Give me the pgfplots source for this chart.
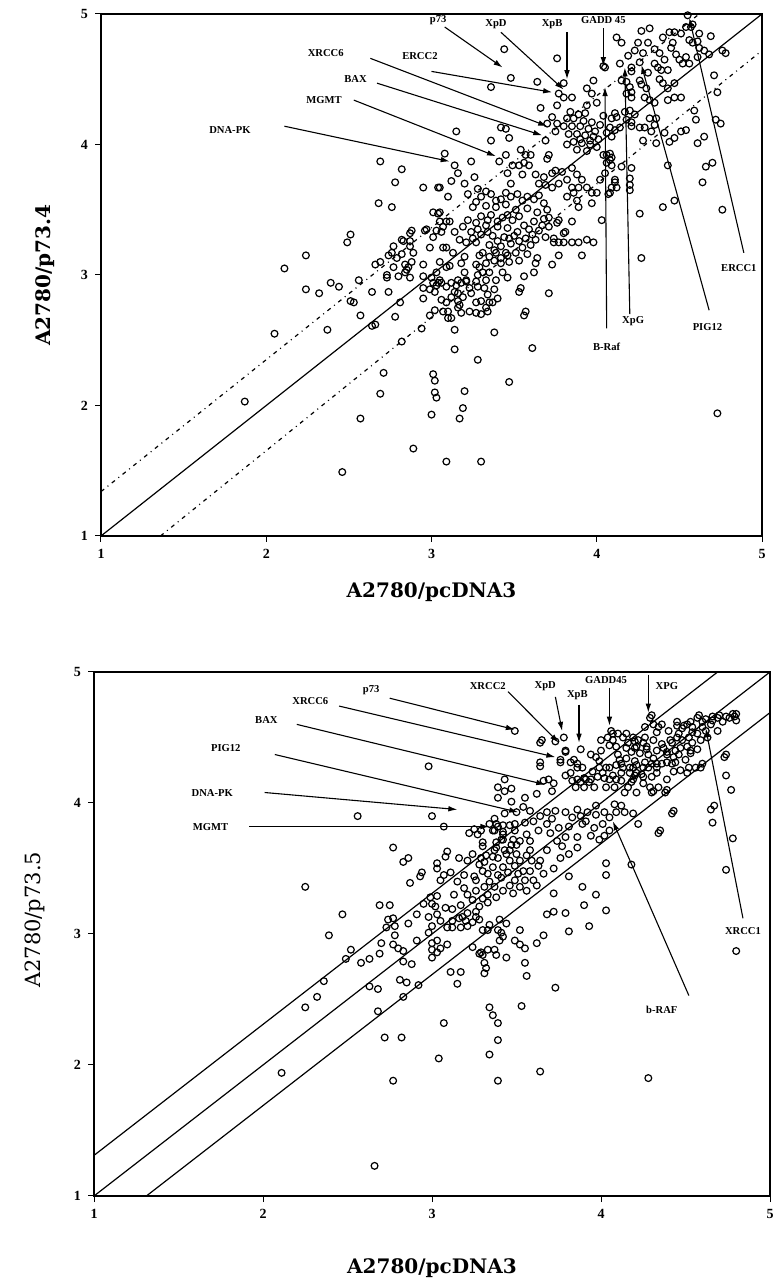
\documentclass[border=0pt]{standalone}
\usepackage{fontspec}
\setmainfont{Liberation Serif}
\newfontfamily\dvs{DejaVu Serif}
\usepackage{pgfplots}
\pgfplotsset{compat=1.18}
\usetikzlibrary{arrows.meta}
\newcommand\ann{\bfseries\fontsize{5.3}{6}\selectfont}
\pgfplotsset{myax/.style={scale only axis, anchor=south west, clip=false,
  xmin=1,xmax=5,ymin=1,ymax=5, xtick={1,2,3,4,5}, ytick={1,2,3,4,5},
  xtick pos=bottom, ytick pos=left, tick align=outside, major tick length=3pt,
  major tick style={line width=0.5pt,black},
  axis line style={line width=0.9pt},
  /pgf/number format/assume math mode=true,
  ticklabel style={font=\bfseries\fontsize{7}{8}\selectfont},
}}
\tikzset{ar/.style={-{Latex[length=4.5pt,width=2.8pt]}, line width=0.55pt},
 pts/.style={only marks, mark=o, mark size=1.7pt, mark options={line width=0.6pt,black}}}
\begin{document}
\begin{tikzpicture}
\useasboundingbox (0,0) rectangle (388pt,644pt);
% ---------------- TOP ----------------
\begin{axis}[myax, at={(50.5pt,376pt)}, width=330.5pt, height=261pt,
  xlabel={A2780/pcDNA3}, ylabel={A2780/p73.4},
  xlabel style={font=\dvs\bfseries\fontsize{10}{12}\selectfont, at={(axis description cs:0.5,-0.107)}, anchor=center},
  ylabel style={font=\dvs\bfseries\fontsize{10}{12}\selectfont, at={(axis description cs:-0.085,0.5)}, anchor=center}]
\addplot[line width=0.6pt] coordinates {(1,1)(5,5)};
\addplot[line width=0.6pt, dash pattern=on 2pt off 2.2pt on 0.5pt off 2.2pt] coordinates {(1,1.34)(4.62,5)};
\addplot[line width=0.6pt, dash pattern=on 2pt off 2.2pt on 0.5pt off 2.2pt] coordinates {(1.36,1)(5,4.72)};
\addplot[pts] coordinates {
(3.44,4.73)(3.76,4.66)(3.48,4.51)(3.36,4.44)(3.64,4.48)(3.80,4.47)(4.04,4.60)(3.98,4.49)(3.94,4.43)(3.97,4.39)(4.00,4.32)(3.94,4.30)(3.93,4.24)(3.77,4.39)(3.80,4.36)(3.85,4.36)(3.76,4.30)(3.66,4.28)(3.73,4.21)(3.70,4.16)(3.76,4.16)(3.75,4.10)
(3.82,4.20)(3.86,4.20)(3.80,4.14)(3.85,4.14)(3.90,4.14)(3.95,4.12)(3.83,4.08)(3.88,4.08)(3.93,4.07)(3.98,4.06)(3.86,4.02)(3.91,4.01)(3.96,4.00)(3.82,4.00)(3.88,3.96)(3.94,3.95)(4.00,3.98)(3.99,4.10)
(3.15,4.10)(3.42,4.13)(3.45,4.12)(3.47,4.05)(3.36,4.03)(3.54,3.96)(3.57,3.92)(3.60,3.92)(3.69,4.03)(3.71,3.92)(3.70,3.89)(3.08,3.93)(3.14,3.84)(3.16,3.78)(3.24,3.87)(3.41,3.87)(3.45,3.92)(3.49,3.84)(3.53,3.84)(3.56,3.86)(3.59,3.84)(3.46,3.78)(3.48,3.70)(3.55,3.77)(3.05,3.67)(3.63,3.77)(3.68,3.75)(3.73,3.78)(3.75,3.80)(3.79,3.79)(3.65,3.70)(3.69,3.69)(3.73,3.67)(3.77,3.70)
(3.82,3.73)(3.85,3.82)(3.88,3.77)(3.91,3.73)(3.89,3.67)(3.94,3.67)(3.97,3.63)(3.86,3.63)(3.88,3.57)(3.82,3.60)(3.89,3.52)(3.97,3.55)(4.00,3.63)(4.02,3.73)(4.05,3.78)(4.08,3.88)(4.04,3.92)(4.08,3.93)(4.11,3.71)(4.12,3.67)(4.07,3.62)(3.85,3.67)
(3.30,3.60)(3.36,3.62)(3.42,3.58)(3.48,3.60)(3.55,3.57)(3.62,3.58)(3.68,3.55)(3.33,3.53)(3.39,3.52)(3.45,3.54)(3.51,3.50)(3.58,3.51)(3.64,3.48)(3.70,3.50)(3.30,3.45)(3.36,3.46)(3.43,3.44)(3.49,3.42)(3.62,3.41)(3.68,3.43)(3.33,3.38)(3.40,3.37)(3.46,3.36)(3.52,3.33)(3.59,3.35)(3.65,3.34)(3.30,3.31)(3.37,3.30)(3.44,3.29)(3.50,3.30)(3.57,3.28)(3.63,3.27)(3.35,3.23)(3.42,3.22)(3.48,3.24)(3.55,3.21)(3.71,3.37)(3.74,3.28)
(3.05,3.48)(3.07,3.37)(3.11,3.41)(3.14,3.33)(3.19,3.37)(3.22,3.42)(3.24,3.33)(3.17,3.27)(3.21,3.25)(3.25,3.28)(3.09,3.21)(3.13,3.17)(3.20,3.14)(3.27,3.25)(3.25,3.52)
(3.31,3.17)(3.35,3.14)(3.38,3.11)(3.42,3.09)(3.47,3.10)(3.43,3.02)(3.31,3.02)(3.29,3.06)(3.33,2.96)(3.39,2.96)(3.46,2.98)
(3.64,3.13)(3.63,3.09)(3.73,3.08)(3.69,3.29)(3.77,3.25)(3.80,3.25)(3.85,3.25)(3.89,3.25)(3.94,3.27)(3.98,3.25)(3.91,3.15)(3.81,3.33)(3.76,3.40)(3.71,3.44)(3.85,3.41)(4.03,3.42)(3.71,2.86)(3.53,2.87)(3.54,2.90)
(3.05,2.96)(3.09,2.91)(3.14,2.87)(3.19,2.83)(3.23,2.90)(3.28,2.91)(3.35,2.79)
(4.27,4.87)(4.32,4.89)(4.44,4.86)(4.47,4.86)(4.51,4.85)(4.54,4.90)(4.57,4.90)(4.58,4.92)(4.55,4.99)(4.69,4.83)(4.12,4.82)(4.15,4.78)(4.31,4.78)(4.23,4.72)(4.28,4.70)(4.46,4.78)(4.45,4.74)(4.48,4.69)(4.50,4.65)(4.54,4.67)(4.56,4.80)(4.58,4.78)(4.61,4.79)(4.62,4.74)(4.65,4.72)(4.68,4.69)(4.61,4.67)(4.56,4.62)(4.52,4.62)(4.76,4.72)(4.78,4.70)
(4.05,4.59)(4.14,4.62)(4.21,4.59)(4.21,4.56)(4.26,4.63)(4.35,4.62)(4.37,4.59)(4.39,4.57)(4.43,4.57)(4.71,4.53)(4.73,4.40)(4.15,4.49)(4.18,4.48)(4.20,4.44)(4.21,4.40)(4.18,4.39)(4.21,4.36)(4.26,4.49)(4.27,4.46)(4.30,4.43)(4.40,4.47)(4.43,4.43)(4.47,4.47)(4.43,4.34)(4.47,4.36)(4.51,4.36)(4.29,4.36)(4.32,4.34)(4.35,4.32)(4.59,4.26)(4.60,4.19)(4.72,4.19)(4.75,4.16)
(4.11,4.24)(4.12,4.21)(4.09,4.20)(4.17,4.25)(4.20,4.26)(4.23,4.23)(4.18,4.19)(4.21,4.17)(4.32,4.20)(4.36,4.20)(4.35,4.15)(4.33,4.10)(4.21,4.14)(4.26,4.13)(4.29,4.13)(4.08,4.13)(4.11,4.11)(4.06,4.09)(4.09,4.06)(4.14,4.13)(4.41,4.09)(4.44,4.02)(4.47,4.05)(4.51,4.10)(4.54,4.11)(4.36,4.01)(4.28,4.03)(4.61,4.01)(4.65,4.06)
(4.06,3.92)(4.09,3.90)(4.06,3.86)(4.09,3.84)(4.15,3.83)(4.21,3.82)(4.43,3.84)(4.66,3.83)(4.70,3.86)(4.11,3.73)(4.09,3.67)(4.20,3.74)(4.20,3.69)(4.20,3.65)(4.08,3.63)(4.64,3.71)(4.47,3.57)(4.40,3.52)(4.26,3.47)(4.76,3.50)(4.27,3.13)
(2.69,3.87)(2.82,3.81)(2.78,3.71)(2.95,3.67)(3.04,3.67)(2.68,3.55)(2.76,3.52)(3.01,3.48)(3.04,3.47)(3.05,3.41)(3.09,3.41)(2.51,3.31)(2.49,3.25)(2.88,3.34)(2.97,3.35)(3.01,3.29)(3.06,3.33)(2.24,3.15)(2.11,3.05)(2.83,3.26)(2.87,3.26)(2.99,3.21)(3.07,3.21)(2.76,3.17)(2.82,3.16)(2.74,3.15)(2.79,3.13)(2.88,3.10)(2.86,3.06)(2.95,3.08)(3.05,3.10)(2.69,3.10)(2.66,3.08)(2.77,3.06)(2.84,3.02)(2.87,2.98)(2.73,2.98)(3.00,2.98)(3.01,2.94)(3.04,2.94)(3.06,2.94)(2.99,2.89)(3.02,2.87)(2.95,2.90)(2.95,2.82)(2.39,2.94)(2.44,2.91)(2.24,2.89)(2.32,2.86)(2.56,2.96)(2.64,2.87)(2.74,2.87)(2.51,2.80)(2.53,2.79)(2.81,2.79)(2.57,2.69)(2.78,2.68)(3.02,2.73)(3.07,2.72)(2.99,2.69)(3.10,2.67)(2.37,2.58)(2.05,2.55)(2.64,2.61)(2.66,2.62)(2.94,2.59)(2.82,2.49)
(3.03,3.34)(2.96,3.34)(2.87,3.32)(2.82,3.27)(2.87,3.22)(2.89,3.17)(2.77,3.22)(2.85,3.04)(2.80,2.99)(2.95,2.99)(3.03,3.02)(3.11,3.07)(3.16,2.96)(3.03,2.92)(3.24,2.86)(3.30,2.80)(3.37,2.79)(3.40,2.82)(3.16,2.80)(3.06,2.81)(3.10,2.72)(3.18,2.71)(3.27,2.71)(3.34,2.72)(3.57,2.72)(3.56,2.99)(3.62,3.02)(3.77,3.15)(3.74,3.25)(3.80,3.32)(3.77,3.42)
(2.73,3.00)(2.84,3.08)(3.09,3.06)(3.12,2.94)(3.15,2.92)(3.18,2.94)(3.21,2.95)(3.16,2.86)(3.12,2.83)(3.09,2.79)(3.12,2.67)(3.17,2.77)(3.14,2.58)(3.14,2.43)(3.23,2.72)(3.27,2.79)(3.32,2.90)(3.38,2.89)(3.34,2.85)(3.33,2.75)(3.38,2.56)(3.28,2.35)(3.20,3.02)(3.18,3.09)(3.21,2.96)(3.27,3.08)(3.28,3.00)(3.27,2.95)(3.35,3.02)(3.42,3.13)(3.39,3.17)(3.29,3.15)(3.33,3.09)(3.46,3.15)(3.53,3.11)(3.56,2.69)(3.61,2.44)
(3.16,2.75)(3.30,2.70)(2.71,2.25)(3.01,2.24)(3.02,2.19)(3.47,2.18)(1.87,2.03)(2.69,2.09)(3.02,2.10)(3.03,2.06)(3.20,2.11)(3.19,1.98)(3.00,1.93)(2.57,1.90)(3.17,1.90)(4.73,1.94)(2.89,1.67)(3.09,1.57)(3.30,1.57)(2.46,1.49)
(3.20,3.70)(3.12,3.72)(3.26,3.75)(3.22,3.62)(3.28,3.66)(3.10,3.60)
(3.27,3.56)(3.33,3.64)(3.39,3.57)(3.45,3.63)(3.52,3.62)(3.58,3.60)(3.65,3.61)(3.27,3.40)(3.34,3.42)(3.40,3.41)(3.46,3.46)(3.53,3.45)(3.56,3.38)(3.61,3.31)(3.67,3.38)(3.28,3.35)(3.34,3.33)(3.40,3.26)(3.47,3.28)(3.53,3.26)(3.60,3.23)(3.38,3.19)(3.45,3.17)(3.51,3.17)(3.58,3.16)
(3.84,4.25)(3.89,4.23)(3.92,4.18)(3.97,4.17)(4.02,4.15)(4.04,4.22)(3.90,4.04)(3.96,4.03)(4.01,4.04)(4.38,4.70)(4.41,4.65)(4.35,4.73)(4.40,4.82)(4.62,4.85)(4.25,4.78)(4.19,4.68)(4.31,4.55)(4.38,4.50)
};
% annotations
\node[font=\ann] at (axis cs:3.04,4.95) {p73};
\draw[ar] (axis cs:3.08,4.90) -- (axis cs:3.43,4.59);
\node[font=\ann] at (axis cs:3.39,4.92) {XpD};
\draw[ar] (axis cs:3.42,4.86) -- (axis cs:3.80,4.42);
\node[font=\ann] at (axis cs:3.73,4.92) {XpB};
\draw[ar] (axis cs:3.82,4.86) -- (axis cs:3.82,4.50);
\node[font=\ann] at (axis cs:4.04,4.95) {GADD 45};
\draw[ar] (axis cs:4.04,4.89) -- (axis cs:4.04,4.60);
\node[font=\ann] at (axis cs:2.36,4.70) {XRCC6};
\draw[ar] (axis cs:2.63,4.66) -- (axis cs:3.70,4.14);
\node[font=\ann] at (axis cs:2.93,4.68) {ERCC2};
\draw[ar] (axis cs:3.00,4.56) -- (axis cs:3.73,4.40);
\node[font=\ann] at (axis cs:2.54,4.50) {BAX};
\draw[ar] (axis cs:2.67,4.47) -- (axis cs:3.67,4.07);
\node[font=\ann] at (axis cs:2.35,4.34) {MGMT};
\draw[ar] (axis cs:2.53,4.34) -- (axis cs:3.39,3.91);
\node[font=\ann] at (axis cs:1.78,4.11) {DNA-PK};
\draw[ar] (axis cs:2.11,4.14) -- (axis cs:3.11,3.87);
\node[font=\ann] at (axis cs:4.86,3.05) {ERCC1};
\draw[ar] (axis cs:4.89,3.17) -- (axis cs:4.56,4.97);
\node[font=\ann] at (axis cs:4.67,2.60) {PIG12};
\draw[ar] (axis cs:4.68,2.73) -- (axis cs:4.27,4.61);
\node[font=\ann] at (axis cs:4.22,2.65) {XpG};
\draw[ar] (axis cs:4.20,2.70) -- (axis cs:4.17,4.59);
\node[font=\ann] at (axis cs:4.06,2.45) {B-Raf};
\draw[ar] (axis cs:4.06,2.59) -- (axis cs:4.05,4.44);
\end{axis}
% ---------------- BOTTOM ----------------
\begin{axis}[myax, at={(47pt,46pt)}, width=338pt, height=262pt,
  xlabel={A2780/pcDNA3}, ylabel={A2780/p73.5},
  xlabel style={font=\dvs\bfseries\fontsize{10}{12}\selectfont, at={(axis description cs:0.5,-0.137)}, anchor=center},
  ylabel style={font=\dvs\fontsize{10.5}{12}\selectfont, at={(axis description cs:-0.087,0.527)}, anchor=center}]
\addplot[line width=0.6pt] coordinates {(1,1)(5,5)};
\addplot[line width=0.6pt] coordinates {(1,1.31)(4.69,5)};
\addplot[line width=0.6pt] coordinates {(1.31,1)(5,4.69)};
\addplot[pts] coordinates {
(2.52,2.88)(2.49,2.81)(2.58,2.78)(2.63,2.81)(2.69,2.85)(2.83,2.87)(3.00,2.82)(3.03,2.86)(2.83,2.79)(2.88,2.77)
(2.36,2.64)(2.32,2.52)(2.25,2.44)(2.63,2.60)(2.68,2.58)(2.81,2.65)(2.85,2.63)(2.92,2.61)(2.83,2.52)(2.68,2.41)(3.11,2.71)(3.17,2.71)(3.15,2.62)(3.29,2.86)(3.31,2.78)(3.32,2.74)(3.31,2.70)(3.37,2.88)(3.38,2.84)(3.44,2.82)(3.55,2.78)(3.56,2.68)(3.73,2.59)(3.34,2.44)(3.36,2.38)(3.39,2.32)(3.39,2.19)(3.34,2.08)(3.39,1.88)(3.53,2.45)(3.07,2.32)(2.72,2.21)(2.82,2.21)(3.04,2.05)(2.77,1.88)(2.11,1.94)(3.64,1.95)(4.28,1.90)(2.66,1.23)(4.80,2.87)(3.24,2.90)
(3.49,4.55)(3.65,4.48)(3.78,4.50)(3.79,4.40)(3.88,4.41)(3.76,4.33)(3.64,4.31)(3.84,4.33)(3.86,4.30)(3.89,4.27)(3.94,4.37)(3.97,4.35)(3.99,4.32)(2.98,4.28)(3.43,4.18)(3.39,4.12)(3.43,4.09)(3.47,4.11)(3.62,4.07)(3.66,4.17)(3.69,4.18)(3.72,4.15)(3.71,4.09)(3.79,4.21)(3.83,4.17)(3.86,4.18)(3.90,4.19)(3.94,4.18)(3.85,4.12)(3.90,4.12)(3.96,4.12)(4.02,4.19)(4.03,4.27)(4.07,4.21)(4.12,4.17)(4.18,4.16)(4.20,4.21)(4.24,4.22)(4.06,4.55)(4.10,4.53)(4.15,4.53)(4.19,4.50)(4.07,4.48)(4.05,4.44)
(4.30,4.67)(4.31,4.60)(4.36,4.60)(4.45,4.62)(4.49,4.59)(4.53,4.62)(4.58,4.67)(4.62,4.64)(4.66,4.66)(4.70,4.67)(4.74,4.66)(4.78,4.68)(4.80,4.68)(4.54,4.58)(4.60,4.58)(4.65,4.60)(4.46,4.53)(4.52,4.50)(4.57,4.53)(4.62,4.55)
(4.22,4.48)(4.26,4.50)(4.31,4.48)(4.36,4.45)(4.41,4.48)(4.20,4.42)(4.27,4.41)(4.33,4.40)(4.39,4.37)(4.44,4.40)(4.46,4.37)(4.53,4.40)(4.50,4.33)(4.57,4.41)(4.10,4.37)(4.15,4.34)(4.20,4.32)(4.26,4.31)(4.31,4.34)(4.12,4.30)(4.19,4.27)(4.28,4.27)(4.33,4.30)(4.39,4.31)(4.44,4.31)(4.52,4.27)(4.60,4.30)(4.31,4.09)(4.39,4.10)
(4.74,4.37)(4.74,4.21)(4.77,4.10)(4.65,3.95)(4.67,3.98)(4.66,3.85)(4.78,3.73)(4.74,3.49)(4.43,3.94)(4.35,3.79)(4.22,3.84)(4.18,3.53)
(3.39,4.04)(3.47,4.01)(3.55,4.04)(3.54,3.97)(3.58,3.94)(3.50,3.93)(3.43,3.92)(3.38,3.84)(3.42,3.83)(3.49,3.84)(3.55,3.85)(3.60,3.86)(3.64,3.90)(3.68,3.93)(3.73,3.94)(3.79,3.93)(3.83,3.89)(3.88,3.90)(3.92,3.93)(3.97,3.91)(4.02,3.93)(4.05,3.89)(4.09,3.93)(4.14,3.93)(4.19,3.92)(3.68,3.84)(3.75,3.81)(3.81,3.82)(3.89,3.84)(3.96,3.81)(4.01,3.84)(3.79,3.74)(3.86,3.74)(3.94,3.75)(3.99,3.72)(3.63,3.79)(3.56,3.76)(3.49,3.79)(3.42,3.76)(3.37,3.79)(4.05,3.79)(4.02,3.75)
(2.56,3.90)(3.00,3.90)(3.07,3.82)(3.25,3.80)(3.29,3.79)(3.34,3.84)(3.37,3.88)
(3.30,3.70)(3.38,3.70)(3.42,3.72)(3.47,3.68)(3.52,3.71)(3.58,3.71)(3.37,3.64)(3.43,3.64)(3.50,3.61)(3.58,3.64)(3.39,3.58)(3.46,3.56)(3.52,3.56)(3.59,3.56)(3.64,3.56)(3.24,3.61)(3.29,3.58)(3.36,3.51)(3.42,3.51)(3.49,3.52)(3.54,3.48)(3.63,3.52)(3.66,3.46)(3.33,3.46)(3.41,3.43)(3.49,3.41)(3.55,3.41)(3.60,3.41)(3.26,3.41)(3.37,3.36)(3.46,3.37)(3.52,3.36)(3.62,3.37)(3.77,3.67)(3.76,3.58)(3.81,3.61)(3.86,3.66)(3.72,3.50)(3.81,3.44)(3.89,3.36)(3.97,3.30)(4.03,3.54)(4.03,3.45)
(2.77,3.66)(2.86,3.58)(2.83,3.55)(3.09,3.63)(3.08,3.59)(3.03,3.54)(3.03,3.50)(2.94,3.47)(2.87,3.39)
(3.32,3.60)(3.16,3.58)(3.21,3.56)(3.28,3.53)(3.30,3.48)(3.34,3.40)(3.25,3.44)(3.19,3.45)(3.15,3.40)(3.19,3.35)(3.13,3.30)(3.21,3.30)(3.26,3.33)(3.33,3.30)(3.17,3.22)(3.21,3.16)(3.26,3.17)(3.16,3.12)(3.20,3.10)(3.12,3.19)(3.03,3.29)(2.99,3.28)(2.95,3.23)(3.00,3.23)(3.08,3.20)(2.98,3.13)(3.05,3.10)(3.12,3.10)(2.91,3.15)(2.86,3.08)(3.00,3.06)(2.98,3.01)
(2.69,3.22)(2.75,3.22)(2.47,3.15)(2.39,2.99)(2.25,3.36)(2.74,3.11)(2.78,3.06)(2.78,2.99)(2.91,2.95)(3.00,2.93)(3.03,2.95)(3.21,3.06)(3.26,3.13)(3.34,3.07)(3.39,3.03)(3.42,2.98)(3.49,2.95)(3.52,2.92)(3.55,2.89)(3.62,2.93)(3.66,2.99)(3.68,3.15)(3.72,3.17)(3.72,3.31)(3.90,3.22)(3.93,3.06)(4.03,3.18)(3.79,3.16)(3.81,3.02)(3.52,3.03)(3.33,2.88)
(3.22,3.77)(3.27,3.76)(3.36,3.79)(3.39,3.82)(3.42,3.78)(3.46,3.83)(3.41,3.72)(3.48,3.72)(3.38,3.66)(3.46,3.64)(3.50,3.68)(3.30,3.67)(2.93,3.44)(3.07,3.45)(3.11,3.47)(3.05,3.41)
(2.77,3.12)(2.73,3.05)(2.70,2.93)(2.77,2.92)(2.80,2.89)(3.00,2.88)(3.05,2.89)(3.09,2.92)(3.03,3.15)(3.02,3.21)(3.09,3.05)(3.12,3.05)(3.17,3.05)(3.18,3.13)(3.24,3.09)(3.28,3.11)(3.30,3.03)(3.33,3.03)(3.28,3.21)(3.33,3.24)(3.30,2.84)(3.40,2.95)(3.41,3.01)(3.40,3.11)(3.44,3.08)(3.28,2.85)
(4.29,4.65)(4.34,4.58)(4.45,4.59)(4.48,4.57)(4.51,4.60)(4.57,4.65)(4.60,4.62)(4.66,4.63)(4.69,4.65)(4.72,4.62)(4.76,4.65)(4.79,4.66)(4.80,4.63)
(4.54,4.54)(4.48,4.48)(4.45,4.50)(4.42,4.46)(4.47,4.42)(4.51,4.43)(4.54,4.46)(4.59,4.48)(4.53,4.38)(4.43,4.35)(4.39,4.39)(4.37,4.42)
(4.73,4.35)(4.59,4.27)(4.51,4.23)(4.42,3.92)(4.34,3.77)
(4.04,4.50)(4.07,4.53)(4.13,4.50)(4.20,4.47)(4.16,4.46)(4.21,4.43)(4.25,4.46)(4.27,4.43)(4.23,4.38)(4.28,4.37)(4.18,4.39)(4.11,4.33)(4.09,4.29)(4.13,4.27)(4.17,4.27)(4.21,4.29)(4.25,4.27)(4.30,4.30)(4.33,4.27)(4.36,4.30)(4.42,4.30)
(4.12,4.23)(4.17,4.23)(4.21,4.23)(4.25,4.20)(4.30,4.20)(4.33,4.23)(4.19,4.18)(4.25,4.15)(4.29,4.12)(4.34,4.12)(4.16,4.12)(4.09,4.18)(4.05,4.18)(4.03,4.12)(4.08,4.12)(4.14,4.08)(4.21,4.08)(4.30,4.08)(4.38,4.08)(4.39,4.18)(4.43,4.24)(4.47,4.25)(4.56,4.27)
(3.73,4.47)(3.79,4.39)(3.64,4.46)(3.76,4.31)(3.64,4.28)
(3.82,4.31)(3.86,4.27)(3.82,4.23)(3.88,4.16)(3.91,4.18)(3.93,4.16)(3.99,4.27)(3.95,4.24)(3.98,4.20)(4.01,4.23)(4.05,4.27)
(3.31,3.55)(3.36,3.59)(3.44,3.61)(3.56,3.60)(3.45,3.47)(3.51,3.46)(3.58,3.48)(3.39,3.45)(3.31,3.36)(3.42,3.33)(3.48,3.31)(3.56,3.33)(3.24,3.26)(3.30,3.27)(3.38,3.28)(3.70,3.77)(3.74,3.71)(3.68,3.64)(3.71,3.88)(3.86,3.95)(3.91,3.86)(4.08,3.99)(4.12,3.98)(3.97,3.98)(4.33,4.54)(4.40,4.55)(4.63,4.50)(4.69,4.55)(4.26,4.58)(4.15,4.42)(4.09,4.43)(4.00,4.40)(4.00,4.48)
};
% annotations
\node[font=\ann] at (axis cs:2.64,4.86) {p73};
\draw[ar] (axis cs:2.75,4.80) -- (axis cs:3.49,4.56);
\node[font=\ann] at (axis cs:2.28,4.78) {XRCC6};
\draw[ar] (axis cs:2.45,4.74) -- (axis cs:3.73,4.35);
\node[font=\ann] at (axis cs:2.02,4.63) {BAX};
\draw[ar] (axis cs:2.20,4.60) -- (axis cs:3.67,4.14);
\node[font=\ann] at (axis cs:1.78,4.42) {PIG12};
\draw[ar] (axis cs:2.07,4.37) -- (axis cs:3.51,3.93);
\node[font=\ann] at (axis cs:1.70,4.08) {DNA-PK};
\draw[ar] (axis cs:2.01,4.08) -- (axis cs:3.15,3.95);
\node[font=\ann] at (axis cs:1.69,3.82) {MGMT};
\draw[ar] (axis cs:1.92,3.82) -- (axis cs:3.34,3.82);
\node[font=\ann] at (axis cs:3.33,4.89) {XRCC2};
\draw[ar] (axis cs:3.45,4.85) -- (axis cs:3.75,4.46);
\node[font=\ann] at (axis cs:3.67,4.89) {XpD};
\draw[ar] (axis cs:3.73,4.81) -- (axis cs:3.77,4.55);
\node[font=\ann] at (axis cs:3.86,4.82) {XpB};
\draw[ar] (axis cs:3.87,4.75) -- (axis cs:3.87,4.46);
\node[font=\ann] at (axis cs:4.03,4.94) {GADD45};
\draw[ar] (axis cs:4.05,4.88) -- (axis cs:4.05,4.59);
\node[font=\ann] at (axis cs:4.39,4.89) {XPG};
\draw[ar] (axis cs:4.28,4.98) -- (axis cs:4.28,4.69);
\node[font=\ann] at (axis cs:4.84,3.02) {XRCC1};
\draw[ar] (axis cs:4.84,3.12) -- (axis cs:4.62,4.57);
\node[font=\ann] at (axis cs:4.36,2.42) {b-RAF};
\draw[ar] (axis cs:4.52,2.53) -- (axis cs:4.07,3.86);
\end{axis}
\end{tikzpicture}
\end{document}
